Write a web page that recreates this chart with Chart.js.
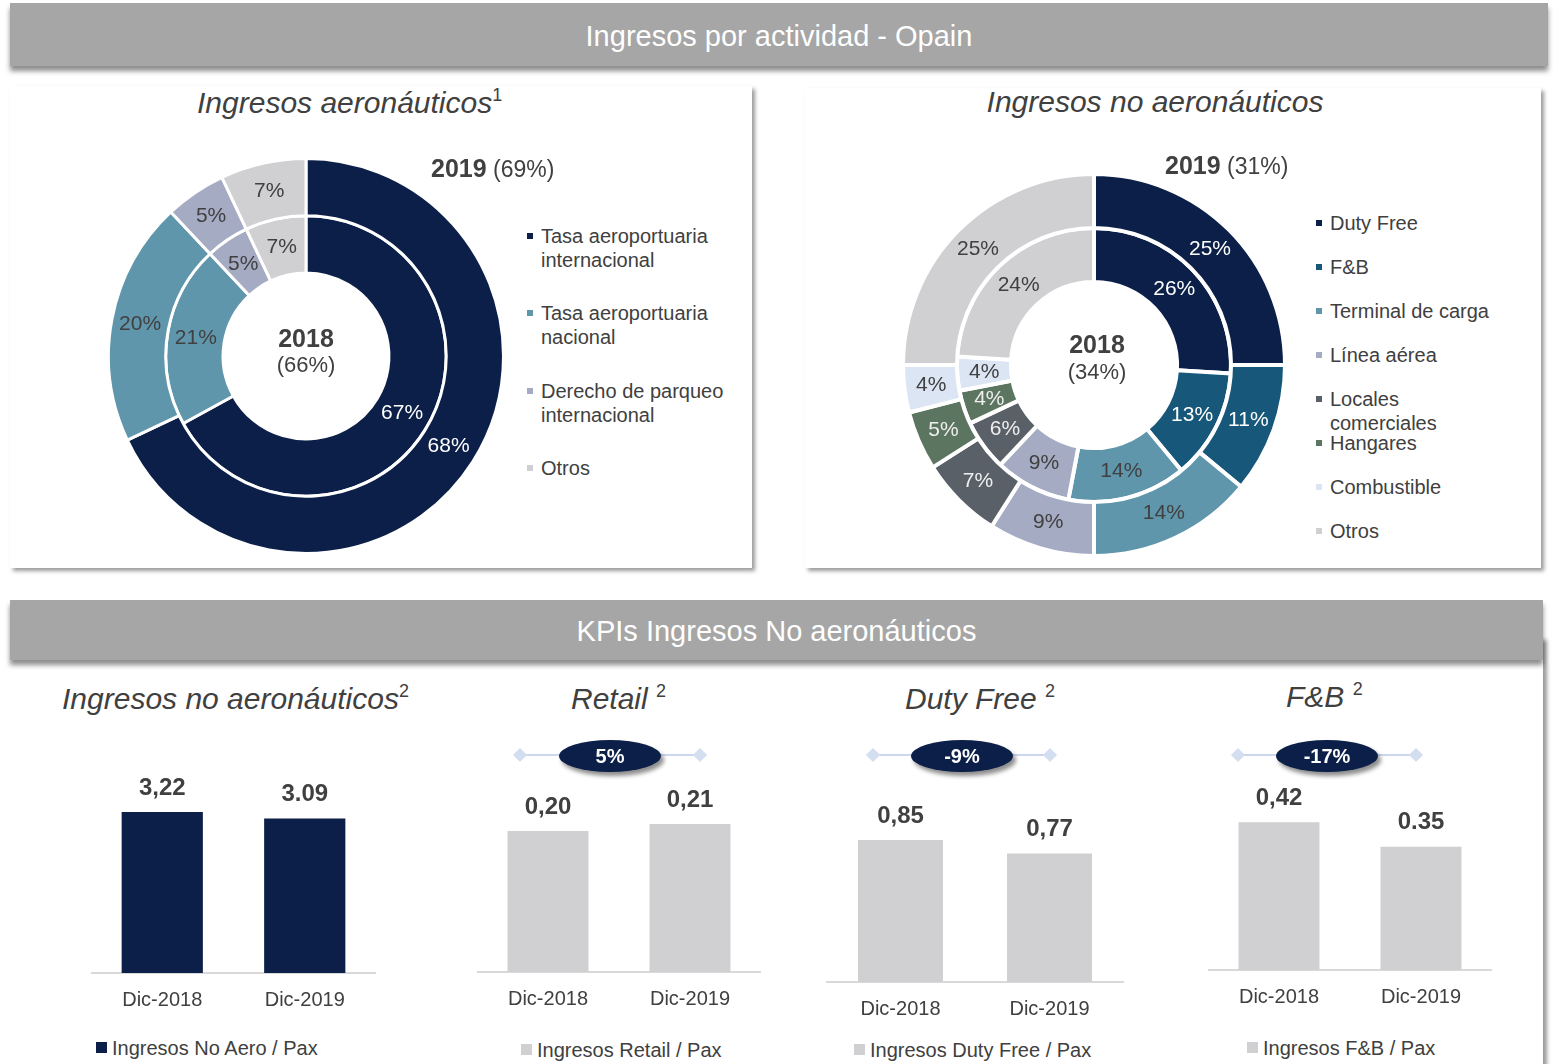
<!DOCTYPE html>
<html>
<head>
<meta charset="utf-8">
<script src="https://cdn.jsdelivr.net/npm/chart.js@4.4.1/dist/chart.umd.min.js"></script>
<style>
body { margin:0; width:1559px; height:1064px; position:relative; overflow:hidden; background:#fff;
       font-family:"Liberation Sans", Arial, sans-serif; color:#404040; }
.banner { position:absolute; background:#a6a6a6; color:#fff; text-align:center; font-size:29px;
          box-shadow:0 5px 5px rgba(0,0,0,0.45); z-index:3; }
.card { position:absolute; background:#fff; box-shadow:3px 3px 4px rgba(0,0,0,0.4); }
.t { position:absolute; white-space:nowrap; line-height:1.2; z-index:4; }
.title { font-style:italic; font-size:30px; }
.title sup { font-size:18px; font-style:normal; vertical-align:0; position:relative; top:-12px; }
canvas { position:absolute; z-index:2; }
.lg { position:absolute; font-size:20px; line-height:24px; z-index:4; }
.lg i { position:absolute; left:-14px; top:9px; width:6px; height:6px; }
.line { position:absolute; height:2px; background:#cbd7ee; z-index:3; }
.dia { position:absolute; width:10px; height:10px; background:#d3def0; transform:rotate(45deg); z-index:3; }
.pill { position:absolute; width:102px; height:32px; line-height:32px; border-radius:50%; background:#0b1f48;
        color:#fff; font-weight:bold; font-size:20px; text-align:center; z-index:4;
        box-shadow:3px 4px 4px rgba(0,0,0,0.45); }
.blg { position:absolute; font-size:20px; line-height:24px; white-space:nowrap; z-index:4; }
.blg i { position:absolute; left:-16px; top:6px; width:11px; height:11px; }
</style>
</head>
<body>

<div class="banner" style="left:10px;top:3px;width:1538px;height:63px;line-height:66px;">Ingresos por actividad - Opain</div>
<div class="card" style="left:10px;top:86px;width:742px;height:482px;"></div>
<div class="card" style="left:805px;top:88px;width:736px;height:480px;"></div>

<div class="t title" style="left:197px;top:85px;">Ingresos aeronáuticos<sup>1</sup></div>
<div class="t title" style="left:855px;top:84px;width:600px;text-align:center;">Ingresos no aeronáuticos</div>

<div class="t" style="left:431px;top:153px;font-size:23px;"><b style="font-size:25px;">2019</b> (69%)</div>
<div class="t" style="left:206px;top:323px;width:200px;text-align:center;font-size:25px;font-weight:bold;">2018</div>
<div class="t" style="left:206px;top:352px;width:200px;text-align:center;font-size:22px;">(66%)</div>

<div class="t" style="left:1165px;top:150px;font-size:23px;"><b style="font-size:25px;">2019</b> (31%)</div>
<div class="t" style="left:997px;top:329px;width:200px;text-align:center;font-size:25px;font-weight:bold;">2018</div>
<div class="t" style="left:997px;top:359px;width:200px;text-align:center;font-size:22px;">(34%)</div>

<canvas id="aeroChart" width="398" height="398" style="left:107px;top:157px;width:398px;height:398px;"></canvas>
<canvas id="noAeroChart" width="386" height="386" style="left:901px;top:172px;width:386px;height:386px;"></canvas>

<div id="aeroLegend"></div>
<div id="noAeroLegend"></div>

<div class="card" style="left:10px;top:640px;width:1533px;height:440px;box-shadow:4px 0 4px rgba(0,0,0,0.4);"></div>
<div class="banner" style="left:10px;top:600px;width:1533px;height:60px;line-height:62px;">KPIs Ingresos No aeronáuticos</div>

<div class="t title" style="left:62px;top:681px;">Ingresos no aeronáuticos<sup>2</sup></div>
<div class="t title" style="left:571px;top:681px;">Retail <sup>2</sup></div>
<div class="t title" style="left:905px;top:681px;">Duty Free <sup>2</sup></div>
<div class="t title" style="left:1286px;top:679px;">F&amp;B <sup>2</sup></div>

<canvas id="kpiNoAero" width="285" height="263" style="left:91px;top:760px;width:285px;height:263px;"></canvas>
<canvas id="kpiRetail" width="284" height="262" style="left:477px;top:760px;width:284px;height:262px;"></canvas>
<canvas id="kpiDutyFree" width="298" height="272" style="left:826px;top:760px;width:298px;height:272px;"></canvas>
<canvas id="kpiFB" width="284" height="260" style="left:1208px;top:760px;width:284px;height:260px;"></canvas>

<div id="badges"></div>
<div id="kpiLegends"></div>

<script>
// Ingresos aeronáuticos (outer ring 2019, inner ring 2018)
const aeroLabels = ['Tasa aeroportuaria internacional', 'Tasa aeroportuaria nacional', 'Derecho de parqueo internacional', 'Otros'];
const aero2019 = [68, 20, 5, 7];
const aero2018 = [67, 21, 5, 7];
const aeroColors = ['#0b1f48', '#6096ab', '#a5abc2', '#d0cfd1'];
const aeroText = ['#fff', '#404040', '#404040', '#404040'];

// Ingresos no aeronáuticos
const noAeroLabels = ['Duty Free', 'F&B', 'Terminal de carga', 'Línea aérea', 'Locales comerciales', 'Hangares', 'Combustible', 'Otros'];
const noAero2019 = [25, 11, 14, 9, 7, 5, 4, 25];
const noAero2018 = [26, 13, 14, 9, 6, 4, 4, 24];
const noAeroColors = ['#0b1f48', '#175779', '#6096ab', '#a5abc2', '#5a6068', '#5b7560', '#dce5f4', '#d0cfd1'];
const noAeroText = ['#fff', '#fff', '#404040', '#404040', '#eee', '#eee', '#404040', '#404040'];

// KPIs por pasajero
const periods = ['Dic-2018', 'Dic-2019'];
const noAeroPax = [3.22, 3.09];
const noAeroPaxText = ['3,22', '3.09'];
const retailPax = [0.20, 0.21];
const retailPaxText = ['0,20', '0,21'];
const dutyFreePax = [0.85, 0.77];
const dutyFreePaxText = ['0,85', '0,77'];
const fbPax = [0.42, 0.35];
const fbPaxText = ['0,42', '0.35'];
const changes = ['5%', '-9%', '-17%'];

Chart.defaults.font.family = '"Liberation Sans", Arial, sans-serif';
Chart.defaults.color = '#404040';

var arcLabels = {
    id: 'arcLabels',
    afterDatasetsDraw: function(chart) {
        var ctx = chart.ctx;
        ctx.save();
        ctx.font = '21px "Liberation Sans", Arial, sans-serif';
        ctx.textAlign = 'center';
        ctx.textBaseline = 'middle';
        chart.data.datasets.forEach(function(ds, di) {
            chart.getDatasetMeta(di).data.forEach(function(arc, i) {
                var p = arc.tooltipPosition();
                ctx.fillStyle = ds.textColors[i];
                ctx.fillText(ds.data[i] + '%', p.x, p.y);
            });
        });
        ctx.restore();
    }
};

function donut(id, labels, outer, inner, colors, textColors, border, cutout) {
    return new Chart(document.getElementById(id), {
        type: 'doughnut',
        data: {
            labels: labels,
            datasets: [
                { data: outer, backgroundColor: colors, borderColor: '#fff', borderWidth: border, textColors: textColors },
                { data: inner, backgroundColor: colors, borderColor: '#fff', borderWidth: border, textColors: textColors }
            ]
        },
        options: {
            responsive: false,
            animation: false,
            cutout: cutout,
            layout: { padding: 0 },
            plugins: { legend: { display: false }, tooltip: { enabled: false } }
        },
        plugins: [arcLabels]
    });
}

donut('aeroChart', aeroLabels, aero2019, aero2018, aeroColors, aeroText, 3, '42%');
donut('noAeroChart', noAeroLabels, noAero2019, noAero2018, noAeroColors, noAeroText, 4, '43.5%');

function legend(elId, labels, colors, x, y0, step, width) {
    var html = '';
    labels.forEach(function(l, i) {
        html += '<div class="lg" style="left:' + x + 'px;top:' + (y0 + step * i - 12) + 'px;width:' + width + 'px">'
            + '<i style="background:' + colors[i] + '"></i>' + l.replace('&', '&amp;') + '</div>';
    });
    document.getElementById(elId).innerHTML = html;
}
legend('aeroLegend', aeroLabels, aeroColors, 541, 236, 77.3, 200);
legend('noAeroLegend', noAeroLabels, noAeroColors, 1330, 223, 44, 170);

var barValues = {
    id: 'barValues',
    afterDatasetsDraw: function(chart) {
        var ctx = chart.ctx;
        var ds = chart.data.datasets[0];
        ctx.save();
        ctx.font = 'bold 24px "Liberation Sans", Arial, sans-serif';
        ctx.fillStyle = '#404040';
        ctx.textAlign = 'center';
        ctx.textBaseline = 'middle';
        chart.getDatasetMeta(0).data.forEach(function(bar, i) {
            ctx.fillText(ds.valueText[i], bar.x, bar.y - 24);
        });
        ctx.restore();
    }
};

function kpi(id, label, values, texts, color, yMax) {
    return new Chart(document.getElementById(id), {
        type: 'bar',
        data: {
            labels: periods,
            datasets: [{
                label: label,
                data: values,
                valueText: texts,
                backgroundColor: color,
                barPercentage: 0.57,
                categoryPercentage: 1
            }]
        },
        options: {
            responsive: false,
            animation: false,
            layout: { padding: 0 },
            plugins: { legend: { display: false }, tooltip: { enabled: false } },
            scales: {
                x: {
                    grid: { display: false, drawTicks: false },
                    border: { display: true, color: '#d9d9d9', width: 2 },
                    ticks: { color: '#404040', font: { size: 20 }, padding: 15 },
                    afterFit: function(s) { s.height = 50; }
                },
                y: { display: false, min: 0, max: yMax }
            }
        },
        plugins: [barValues]
    });
}

kpi('kpiNoAero', 'Ingresos No Aero / Pax', noAeroPax, noAeroPaxText, '#0b1f48', 213 / 50);
kpi('kpiRetail', 'Ingresos Retail / Pax', retailPax, retailPaxText, '#d0cfd1', 212 / 705);
kpi('kpiDutyFree', 'Ingresos Duty Free / Pax', dutyFreePax, dutyFreePaxText, '#d0cfd1', 222 / 167);
kpi('kpiFB', 'Ingresos F&B / Pax', fbPax, fbPaxText, '#d0cfd1', 210 / 352);

// change badges
var badgePos = [[520, 700, 610], [873, 1050, 962], [1238, 1416, 1327]];
var bh = '';
badgePos.forEach(function(p, i) {
    bh += '<div class="line" style="left:' + p[0] + 'px;width:' + (p[1] - p[0]) + 'px;top:754px"></div>'
        + '<div class="dia" style="left:' + (p[0] - 5) + 'px;top:750px"></div>'
        + '<div class="dia" style="left:' + (p[1] - 5) + 'px;top:750px"></div>'
        + '<div class="pill" style="left:' + (p[2] - 51) + 'px;top:740px">' + changes[i] + '</div>';
});
document.getElementById('badges').innerHTML = bh;

var kpiLegend = [
    ['Ingresos No Aero / Pax', '#0b1f48', 112, 1048],
    ['Ingresos Retail / Pax', '#d0cfd1', 537, 1050],
    ['Ingresos Duty Free / Pax', '#d0cfd1', 870, 1050],
    ['Ingresos F&B / Pax', '#d0cfd1', 1263, 1048]
];
var lh = '';
kpiLegend.forEach(function(k) {
    lh += '<div class="blg" style="left:' + k[2] + 'px;top:' + (k[3] - 12) + 'px"><i style="background:' + k[1] + '"></i>'
        + k[0].replace('&', '&amp;') + '</div>';
});
document.getElementById('kpiLegends').innerHTML = lh;
</script>
</body>
</html>
